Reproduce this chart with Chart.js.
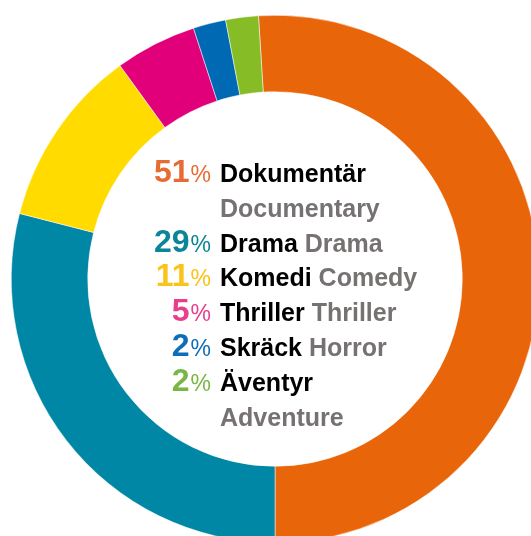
<!DOCTYPE html>
<html>
<head>
<meta charset="utf-8">
<script src="https://cdn.jsdelivr.net/npm/chart.js@4"></script>
<style>
  html, body { margin: 0; padding: 0; background: #fff; overflow: hidden; width: 531px; height: 536px; }
  #wrap { position: absolute; left: 11px; top: 15px; width: 528px; height: 528px; }
</style>
</head>
<body>
<div id="wrap"><canvas id="genreChart" width="528" height="528"></canvas></div>
<script>
// Данные диаграммы
const categoriesSv = ["Dokumentär", "Drama", "Komedi", "Thriller", "Skräck", "Äventyr"];
const categoriesEn = ["Documentary", "Drama", "Comedy", "Thriller", "Horror", "Adventure"];
const shares = [51, 29, 11, 5, 2, 2];

const ringColors = ["#E8650A", "#0087A6", "#FFDB00", "#E2007A", "#0069B4", "#86BC25"];
const textColors = ["#E66C35", "#0B8597", "#FBC21A", "#E83E8C", "#0C6EB8", "#79B643"];

// Плагин для подписи в центре кольца
const centerLegend = {
  id: "centerLegend",
  afterDraw(chart) {
    const ctx = chart.ctx;
    const arc = chart.getDatasetMeta(0).data[0];
    const cx = arc.x;
    const cy = arc.y;

    const pctRight = cx - 64;
    const labelLeft = cx - 55;
    const lineStep = 34.8;
    const maxWidth = 205;
    let y = cy - 97;

    ctx.save();
    ctx.textBaseline = "alphabetic";

    shares.forEach((value, i) => {
      // Проценты: большая цифра + знак % поменьше
      ctx.fillStyle = textColors[i];
      ctx.textAlign = "right";
      ctx.font = "23px 'Liberation Sans', Arial, sans-serif";
      ctx.fillText("%", pctRight, y);
      const pctW = ctx.measureText("%").width;
      ctx.font = "bold 32px 'Liberation Sans', Arial, sans-serif";
      ctx.fillText(String(value), pctRight - pctW - 1, y);

      // Шведское и английское название
      ctx.textAlign = "left";
      ctx.font = "bold 25px 'Liberation Sans', Arial, sans-serif";
      ctx.fillStyle = "#000000";
      ctx.fillText(categoriesSv[i], labelLeft, y);
      const svW = ctx.measureText(categoriesSv[i] + " ").width;
      const enW = ctx.measureText(categoriesEn[i]).width;

      ctx.fillStyle = "#767271";
      if (svW + enW > maxWidth) {
        y += lineStep;
        ctx.fillText(categoriesEn[i], labelLeft, y);
      } else {
        ctx.fillText(categoriesEn[i], labelLeft + svW, y);
      }
      y += lineStep;
    });
    ctx.restore();
  }
};

const ctx = document.getElementById("genreChart").getContext("2d");
new Chart(ctx, {
  type: "doughnut",
  data: {
    labels: categoriesSv,
    datasets: [{
      data: shares,
      backgroundColor: ringColors,
      borderColor: "#ffffff",
      borderWidth: 0.5
    }]
  },
  options: {
    responsive: false,
    animation: false,
    rotation: -3.6,
    cutout: "71%",
    layout: { padding: 0 },
    plugins: {
      legend: { display: false },
      tooltip: { enabled: false }
    }
  },
  plugins: [centerLegend]
});
</script>
</body>
</html>
